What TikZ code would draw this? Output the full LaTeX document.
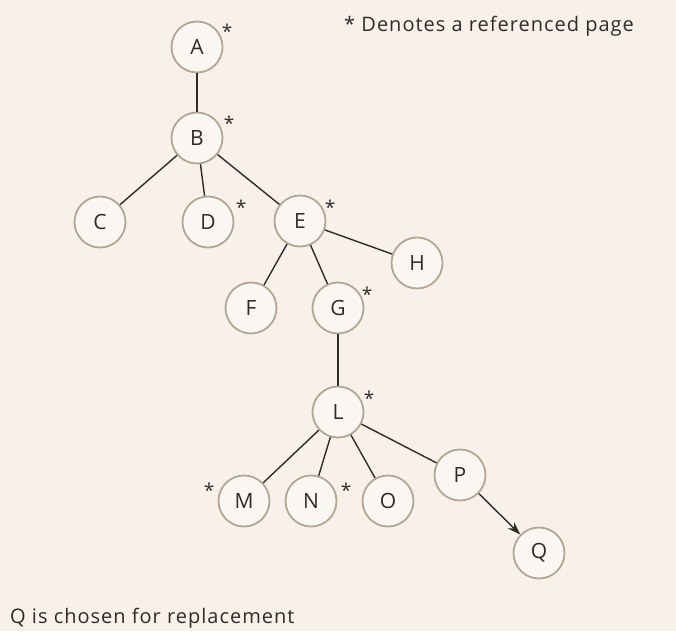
\documentclass[tikz,border=0pt]{standalone}
\usepackage{fontspec}
\setmainfont{Open Sans}
\newfontfamily\lblfont[LetterSpace=5]{Open Sans}
\usetikzlibrary{arrows.meta}
\definecolor{bg}{HTML}{F7F1EA}
\definecolor{nodefill}{HTML}{FAF6F1}
\definecolor{ring}{HTML}{B3A692}
\definecolor{ink}{HTML}{2E2B29}
\begin{document}
\begin{tikzpicture}[x=1pt,y=-1pt,
 nd/.style={circle,draw=ring,line width=1.8pt,fill=nodefill,minimum size=51pt,inner sep=0pt,font=\fontsize{21}{24}\selectfont,text=ink},
 edge/.style={draw=ink,line width=1.4pt},
 ast/.style={font=\fontsize{19}{22}\selectfont,text=ink,inner sep=0pt},
 lbl/.style={font=\lblfont\fontsize{20}{24}\selectfont,text=ink,inner sep=0pt,anchor=base west}]
\fill[bg] (0,0) rectangle (676,631);
\useasboundingbox (0,0) rectangle (676,631);
\node[nd] (A) at (197,47) {A};
\node[nd] (B) at (197,138) {B};
\node[nd] (C) at (100,222) {C};
\node[nd] (D) at (208,222) {D};
\node[nd] (E) at (300,221) {E};
\node[nd] (H) at (417,263) {H};
\node[nd] (F) at (251,308) {F};
\node[nd] (G) at (338,308) {G};
\node[nd] (L) at (338,412) {L};
\node[nd] (M) at (244,501) {M};
\node[nd] (N) at (311,501) {N};
\node[nd] (O) at (388,501) {O};
\node[nd] (P) at (460,475) {P};
\node[nd] (Q) at (539,553) {Q};
\draw[edge] (A) -- (B);
\draw[edge] (B) -- (C);
\draw[edge] (B) -- (D);
\draw[edge] (B) -- (E);
\draw[edge] (E) -- (F);
\draw[edge] (E) -- (G);
\draw[edge] (E) -- (H);
\draw[edge] (G) -- (L);
\draw[edge] (L) -- (M);
\draw[edge] (L) -- (N);
\draw[edge] (L) -- (O);
\draw[edge] (L) -- (P);
\draw[edge,-{Stealth[length=13pt,width=9pt]}] (P) -- (Q);
\node[ast] (sA) at (227,31) {*};
\node[ast] (sB) at (229,123) {*};
\node[ast] (sD) at (241,207) {*};
\node[ast] (sE) at (330,207) {*};
\node[ast] (sG) at (367,294) {*};
\node[ast] (sL) at (369,398) {*};
\node[ast] (sM) at (209,490) {*};
\node[ast] (sN) at (346,490) {*};
\node[lbl] (legend) at (344,32) {* Denotes a referenced page};
\node[lbl] (note) at (10,623) {Q is chosen for replacement};
\end{tikzpicture}
\end{document}
